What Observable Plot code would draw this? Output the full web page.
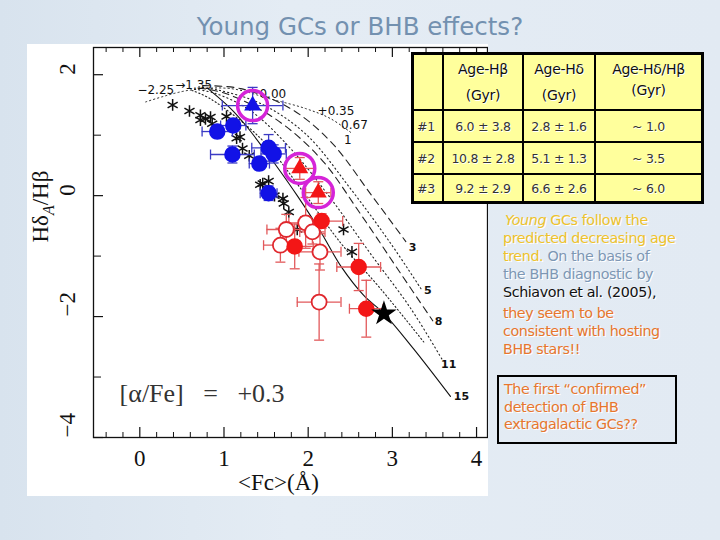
<!DOCTYPE html>
<html><head><meta charset="utf-8">
<script src="https://cdn.jsdelivr.net/npm/d3@7"></script>
<script src="https://cdn.jsdelivr.net/npm/@observablehq/plot@0.6"></script>
<style>
body{margin:0;width:720px;height:540px;overflow:hidden;position:relative;background:linear-gradient(90deg,#d8e3ee 0%,#e4ecf4 40%,#e2eaf3 100%);font-family:"DejaVu Sans",Verdana,sans-serif;}
#title{position:absolute;left:0;width:720px;top:12px;text-align:center;font-size:24.5px;color:#7391b0;}
#chart{position:absolute;left:27px;top:44px;width:461px;height:452px;background:#fff;}
#tbl{position:absolute;left:411px;top:52px;width:287px;table-layout:fixed;border-collapse:collapse;background:#ffff9c;border:3px solid #000;font-family:"DejaVu Sans",sans-serif;color:#333;text-shadow:1px 1px 0 #fff;letter-spacing:-0.3px;}
#tbl td{border:2px solid #000;padding:0;text-align:center;font-size:12.5px;}
#tbl tr.h td{font-size:14px;line-height:26px;height:50px;color:#111;}
#tbl tr.r td{height:30px;}
#tbl tr.r:last-child td{height:26px;}
#notes{position:absolute;left:503px;top:211px;font-size:14.3px;line-height:18px;letter-spacing:-0.4px;text-shadow:1px 1px 0 #fff;}
#box{position:absolute;left:497px;top:375px;width:171px;height:61px;border:2.5px solid #000;padding:4px 0 0 5px;font-size:14.3px;line-height:17.5px;color:#e8762d;letter-spacing:-0.4px;text-shadow:1px 1px 0 #fff;}
</style></head>
<body>
<div id="title">Young GCs or BHB effects?</div>
<div id="chart"></div>
<table id="tbl"></table>
<div id="notes"></div>
<div id="box"></div>
<script>
// ---------------- data ----------------
const xMajor = [0, 1, 2, 3, 4];
const xMinor = [-0.4, -0.2, 0.2, 0.4, 0.6, 0.8, 1.2, 1.4, 1.6, 1.8, 2.2, 2.4, 2.6, 2.8, 3.2, 3.4, 3.6, 3.8];
const yMajor = [-4, -2, 0, 2];
const yMinor = [-3, -1, 1];

// model grid (iso-age lines), [Fc, HdA/Hb]
const age1  = [[0.07,1.55],[0.57,1.74],[1.08,1.77],[1.55,1.60],[1.97,1.44],[2.27,1.27],[2.53,1.02]];
const age3  = [[0.75,1.82],[1.20,1.77],[1.79,1.44],[2.27,0.89],[2.74,0.03],[3.16,-0.76]];
const age5  = [[0.70,1.80],[0.95,1.74],[1.44,1.52],[1.97,1.02],[2.50,0.12],[2.98,-0.79],[3.34,-1.54]];
const age8  = [[0.70,1.78],[1.02,1.69],[1.61,1.27],[2.15,0.61],[2.62,-0.30],[3.10,-1.29],[3.48,-2.07]];
const age11 = [[0.65,1.76],[0.90,1.69],[1.32,1.40],[1.79,0.78],[2.27,-0.05],[2.74,-0.96],[3.22,-1.87],[3.60,-2.73]];
const ageX  = [[0.62,1.74],[0.84,1.60],[1.44,0.94],[1.91,0.12],[2.39,-0.79],[2.86,-1.54],[3.39,-2.45]];
const age15 = [[0.81,1.77],[1.08,1.44],[1.26,1.16],[1.47,0.78],[1.67,0.40],[1.87,0.00],[2.15,-0.60],[2.39,-1.17],[2.66,-1.65],[2.90,-1.95],[3.25,-2.53],[3.69,-3.32]];
const ageLabels = [["3",3.24,-0.86],["5",3.42,-1.57],["8",3.55,-2.08],["11",3.67,-2.79],["15",3.82,-3.32]];
const metLabels = [["−2.25",0.19,1.74],["→1.35",0.64,1.82],["0.00",1.58,1.68],["+0.35",2.33,1.40],["0.67",2.55,1.16],["1",2.47,0.92]];

// Milky Way GCs (asterisks)
const mwX = [0.39,0.59,0.72,0.78,0.84,0.72,0.86,1.15,1.19,1.22,1.30,1.46,1.53,1.43,1.70,1.71,1.77,1.87,2.42,2.52,1.03,1.60];
const mwY = [1.50,1.40,1.33,1.27,1.30,1.25,1.19,0.95,0.97,0.78,0.66,0.20,0.24,0.18,-0.05,-0.13,-0.27,-0.56,-0.56,-0.93,1.31,0.00];

// GCs with errors [x, y, ex, ey]
const blueCircles = [[0.92,1.06,0.18,0.10],[1.11,1.16,0.15,0.10],[1.10,0.68,0.26,0.14],[1.53,0.79,0.20,0.22],[1.59,0.69,0.15,0.15],[1.42,0.53,0.12,0.10],[1.53,0.04,0.10,0.12]];
const redFilled = [[2.16,-0.42,0.25,0.12],[1.84,-0.84,0.22,0.37],[2.60,-1.18,0.26,0.39],[2.69,-1.87,0.20,0.47]];
const redOpen = [[1.97,-0.45,0.20,0.42],[1.74,-0.56,0.23,0.25],[1.67,-0.82,0.20,0.28],[2.05,-0.60,0.15,0.20],[2.14,-0.93,0.25,0.30],[2.13,-1.76,0.26,0.63]];
const blueTri = [[1.34,1.49,0.36,0.30]];
const redTri = [[1.90,0.45,0.17,0.18],[2.12,0.05,0.15,0.18]];
const starPt = [[2.90,-1.95]];

const alphaLabel = ["[α/Fe]   =   +0.3"];
const xLabel = ["<Fc>(Å)"];
const yLabel = ["Hδ/Hβ"];

// table
const tableHead = [["",""],["Age-Hβ","(Gyr)"],["Age-Hδ","(Gyr)"],["Age-Hδ/Hβ","(Gyr)"]];
const rowIds = ["#1","#2","#3"];
const ageHb = ["6.0 ± 3.8","10.8 ± 2.8","9.2 ± 2.9"];
const ageHd = ["2.8 ± 1.6","5.1 ± 1.3","6.6 ± 2.6"];
const ageRatio = ["~ 1.0","~ 3.5","~ 6.0"];

// ---------------- table & text ----------------
const tbl = document.getElementById("tbl");
const colW = [28, 78, 70, 105];
let html = '<tr class="h">' + tableHead.map((h,i)=>`<td style="width:${colW[i]}px${i===3?';line-height:21px;vertical-align:top;padding-top:4px':''}">${h[0]}<br>${h[1]}</td>`).join("") + "</tr>";
rowIds.forEach((id,i)=>{
  html += `<tr class="r"><td style="text-align:left;padding-left:3px">${id}</td><td>${ageHb[i]}</td><td>${ageHd[i]}</td><td>${ageRatio[i]}</td></tr>`;
});
tbl.innerHTML = html;

const Y="#efc22c", G="#7d97b4", K="#111", O="#e8762d";
document.getElementById("notes").innerHTML =
 `<div style="color:${Y};padding-left:2px"><i>Young</i> GCs follow the</div>`+
 `<div style="color:${Y}">predicted decreasing age</div>`+
 `<div><span style="color:${Y}">trend.</span> <span style="color:${G}">On the basis of</span></div>`+
 `<div style="color:${G}">the BHB diagnostic by</div>`+
 `<div style="color:${K}">Schiavon et al. (2005),</div>`+
 `<div style="color:${O};margin-top:3px">they seem to be</div>`+
 `<div style="color:${O}">consistent with hosting</div>`+
 `<div style="color:${O}">BHB stars!!</div>`;
document.getElementById("box").innerHTML =
 `<div>The first “confirmed”</div><div>detection of BHB</div><div>extragalactic GCs??</div>`;

// ---------------- plot ----------------
const W = 461, H = 452, mL = 66, mR = 1, mT = 3, mB = 59;
const fw = W - mL - mR, fh = H - mT - mB;
const toObj = a => a.map(d => ({x:d[0], y:d[1], ex:d[2], ey:d[3]}));
const pts = a => a.map(d => ({x:d[0], y:d[1]}));
const vbar = {draw(ctx, size){ const h = Math.sqrt(size/Math.PI); ctx.moveTo(0,-h); ctx.lineTo(0,h); }};
const hbar = {draw(ctx, size){ const h = Math.sqrt(size/Math.PI); ctx.moveTo(-h,0); ctx.lineTo(h,0); }};

function errMarks(arr, color){
  const d = toObj(arr);
  const capsX = d.flatMap(p => [{x:p.x-p.ex, y:p.y},{x:p.x+p.ex, y:p.y}]);
  const capsY = d.flatMap(p => [{x:p.x, y:p.y-p.ey},{x:p.x, y:p.y+p.ey}]);
  return [
    Plot.ruleY(d, {y:"y", x1:p=>p.x-p.ex, x2:p=>p.x+p.ex, stroke:color, strokeWidth:1.3}),
    Plot.ruleX(d, {x:"x", y1:p=>p.y-p.ey, y2:p=>p.y+p.ey, stroke:color, strokeWidth:1.3}),
    Plot.dot(capsX, {x:"x", y:"y", symbol:vbar, r:5, stroke:color, strokeWidth:1.3}),
    Plot.dot(capsY, {x:"x", y:"y", symbol:hbar, r:5, stroke:color, strokeWidth:1.3})
  ];
}
const minus = v => v < 0 ? "−" + Math.abs(v) : String(v);

const dash = "7,5", dot = "1.2,3";
const chart = Plot.plot({
  width: W, height: H,
  marginLeft: mL, marginRight: mR, marginTop: mT, marginBottom: mB,
  x: {domain: [-0.55, 4.13], axis: null},
  y: {domain: [-4, 2.45], axis: null},
  style: {fontFamily: '"Liberation Serif", "DejaVu Serif", serif', background: "white", color: "#111"},
  marks: [
    Plot.frame({stroke: "#111", strokeWidth: 1.3}),
    // inward ticks
    Plot.tickX(xMajor, {x: d => d, insetTop: fh - 10, stroke: "#111", strokeWidth: 1.2}),
    Plot.tickX(xMinor, {x: d => d, insetTop: fh - 5, stroke: "#111"}),
    Plot.tickX(xMajor, {x: d => d, insetBottom: fh - 10, stroke: "#111", strokeWidth: 1.2}),
    Plot.tickX(xMinor, {x: d => d, insetBottom: fh - 5, stroke: "#111"}),
    Plot.tickY(yMajor, {y: d => d, insetRight: fw - 10, stroke: "#111", strokeWidth: 1.2}),
    Plot.tickY(yMinor, {y: d => d, insetRight: fw - 8, stroke: "#111"}),
    Plot.text(xMajor, {x: d => d, frameAnchor: "bottom", dy: 21, text: d => minus(d), fontSize: 23, lineAnchor: "middle"}),
    Plot.text(yMajor, {y: d => d, frameAnchor: "left", dx: -26, rotate: -90, text: d => minus(d), fontSize: 23, lineAnchor: "middle"}),
    Plot.text(xLabel, {frameAnchor: "bottom", dy: 45, dx: -12, text: d => d, fontSize: 23, lineAnchor: "middle"}),
    Plot.text(yLabel, {frameAnchor: "left", dx: -53, rotate: -90, text: d => d, fontSize: 23, lineAnchor: "middle"}),
    Plot.text(alphaLabel, {x: -0.24, y: -3.27, text: d => d, textAnchor: "start", fontSize: 26, fill: "#333"}),
    // model grid
    Plot.line(pts(age1), {x:"x", y:"y", curve:"catmull-rom", stroke:"#222", strokeWidth:1, strokeDasharray: dot}),
    Plot.line(pts(age3), {x:"x", y:"y", curve:"catmull-rom", stroke:"#222", strokeWidth:1.1, strokeDasharray: dash}),
    Plot.line(pts(age5), {x:"x", y:"y", curve:"catmull-rom", stroke:"#222", strokeWidth:1.1, strokeDasharray: dot}),
    Plot.line(pts(age8), {x:"x", y:"y", curve:"catmull-rom", stroke:"#222", strokeWidth:1.1, strokeDasharray: dash}),
    Plot.line(pts(age11), {x:"x", y:"y", curve:"catmull-rom", stroke:"#222", strokeWidth:1.1, strokeDasharray: dot}),
    Plot.line(pts(ageX), {x:"x", y:"y", curve:"catmull-rom", stroke:"#222", strokeWidth:1.1, strokeDasharray: "1.2,2.5"}),
    Plot.line(pts(age15), {x:"x", y:"y", curve:"catmull-rom", stroke:"#111", strokeWidth:1.1}),
    Plot.text(ageLabels, {x: d=>d[1], y: d=>d[2], text: d=>d[0], fontFamily:'"DejaVu Sans", sans-serif', fontWeight:"bold", fontSize: 11, fill: "#111"}),
    Plot.text(metLabels, {x: d=>d[1], y: d=>d[2], text: d=>d[0], fontFamily:'"DejaVu Sans", sans-serif', fontSize: 12, fill: "#111"}),
    // MW asterisks
    Plot.dot(mwX.map((x,i)=>({x, y: mwY[i]})), {x:"x", y:"y", symbol:"asterisk", r:5.5, stroke:"#111", strokeWidth:1.5}),
    // error bars
    ...errMarks(blueCircles, "#3b3bc4"),
    ...errMarks(blueTri, "#3b3bc4"),
    ...errMarks(redFilled, "#e2595b"),
    ...errMarks(redOpen, "#e2595b"),
    ...errMarks(redTri, "#e2595b"),
    // points
    Plot.dot(toObj(blueCircles), {x:"x", y:"y", r:7.5, fill:"#1212e6", stroke:"#1212e6"}),
    Plot.dot(toObj(redOpen), {x:"x", y:"y", r:7.5, fill:"white", stroke:"#e0282e", strokeWidth:1.8}),
    Plot.dot(toObj(redFilled), {x:"x", y:"y", r:7.5, fill:"#f31616", stroke:"#f31616"}),
    Plot.dot(toObj(blueTri), {x:"x", y:"y", r:6.3, symbol:"triangle", fill:"#1212e6"}),
    Plot.dot(toObj(redTri), {x:"x", y:"y", r:6.3, symbol:"triangle", fill:"#f31616"}),
    Plot.dot([...toObj(blueTri), ...toObj(redTri)], {x:"x", y:"y", r:15, fill:"none", stroke:"#d524d8", strokeWidth:3.5}),
    Plot.dot(pts(starPt), {x:"x", y:"y", r:8, symbol:"star", fill:"#000"})
  ]
});
document.getElementById("chart").appendChild(chart);
// subscript A in the y label
chart.querySelectorAll("text").forEach(t => {
  if (t.textContent === "Hδ/Hβ") {
    t.innerHTML = 'Hδ<tspan font-size="16" font-style="italic" dy="6">A</tspan><tspan dy="-6">/Hβ</tspan>';
  }
});
</script>
</body></html>
